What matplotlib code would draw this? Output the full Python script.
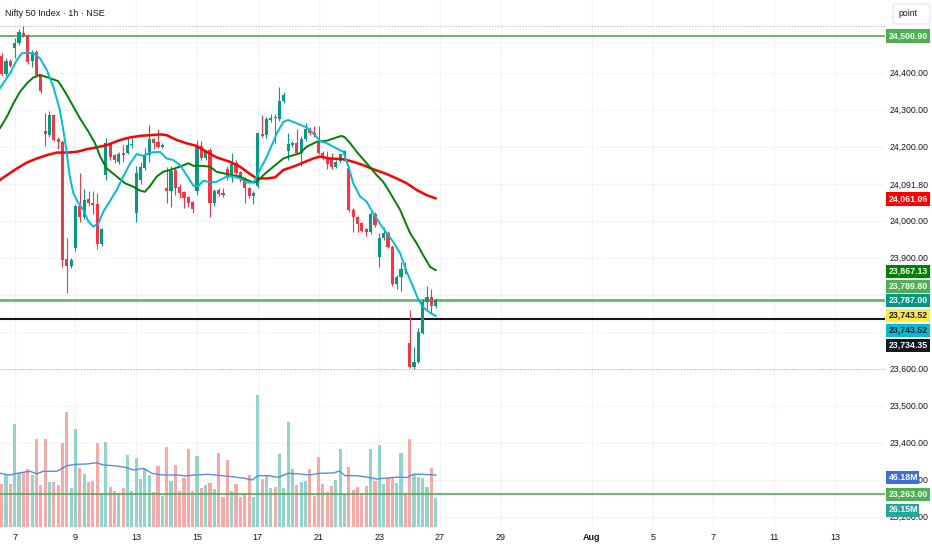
import matplotlib
matplotlib.use("Agg")
import matplotlib.pyplot as plt
from matplotlib.patches import Rectangle, FancyBboxPatch
import numpy as np

# ---------------- data ----------------
opens = [24446, 24397, 24433, 24467, 24480, 24509, 24503, 24433, 24458, 24395,
         24242, 24232, 24286, 24221, 24213, 23897, 23878, 23927, 24040, 24011,
         24059, 24049, 24046, 23938, 24124, 24208, 24178, 24159, 24184, 24184,
         24205, 24022, 24111, 24143, 24178, 24221, 24213, 24200, 24090, 24082,
         24138, 24092, 24079, 24065, 24050, 24082, 24203, 24170, 24192, 24050,
         24084, 24076, 24141, 24124, 24157, 24133, 24115, 24088, 24068, 24095,
         24235, 24232, 24273, 24281, 24275, 24325, 24190, 24206, 24212, 24185,
         24221, 24248, 24237, 24211, 24184, 24172, 24168, 24147, 24162, 24180,
         24142, 24030, 24010, 23994, 23978, 23971, 24019, 23904, 23953, 23968,
         23931, 23830, 23848, 23870, 23671, 23605, 23620, 23698, 23782, 23794,
         23769]
highs = [24454, 24440, 24438, 24494, 24518, 24527, 24506, 24462, 24462, 24398,
         24292, 24298, 24290, 24226, 24220, 23954, 23900, 24045, 24130, 24086,
         24080, 24080, 24075, 23982, 24224, 24212, 24182, 24186, 24205, 24224,
         24224, 24150, 24160, 24197, 24259, 24225, 24249, 24210, 24146, 24148,
         24142, 24100, 24082, 24068, 24053, 24219, 24216, 24192, 24196, 24086,
         24088, 24089, 24150, 24184, 24165, 24136, 24118, 24092, 24082, 24240,
         24286, 24280, 24290, 24290, 24363, 24350, 24238, 24215, 24250, 24230,
         24265, 24255, 24258, 24258, 24188, 24190, 24185, 24165, 24185, 24192,
         24146, 24034, 24014, 23998, 23982, 24023, 24023, 23968, 23985, 23972,
         23935, 23855, 23890, 23890, 23759, 23660, 23712, 23790, 23823, 23815,
         23792]
lows = [24392, 24392, 24415, 24440, 24476, 24498, 24425, 24417, 24390, 24347,
        24203, 24228, 24215, 24195, 23877, 23805, 23872, 23920, 23998, 24005,
        24040, 24020, 23924, 23932, 24110, 24165, 24158, 24155, 24160, 24180,
        24196, 23998, 24100, 24138, 24160, 24195, 24196, 24197, 24049, 24039,
        24070, 24062, 24036, 24038, 24022, 24070, 24165, 24166, 24011, 24040,
        24068, 24065, 24110, 24105, 24118, 24105, 24050, 24062, 24045, 24090,
        24226, 24225, 24268, 24212, 24270, 24318, 24165, 24200, 24180, 24150,
        24215, 24232, 24228, 24180, 24165, 24140, 24140, 24143, 24158, 24175,
        24025, 23971, 23970, 23970, 23960, 23966, 23984, 23876, 23948, 23926,
        23823, 23815, 23812, 23858, 23602, 23600, 23615, 23695, 23760, 23750,
        23765]
closes = [24397, 24433, 24420, 24480, 24512, 24501, 24431, 24458, 24395, 24351,
          24236, 24286, 24219, 24214, 23895, 23878, 23895, 24040, 24011, 24057,
          24049, 24043, 23938, 23978, 24211, 24173, 24165, 24181, 24178, 24205,
          24208, 24130, 24146, 24178, 24221, 24211, 24200, 24205, 24082, 24135,
          24089, 24076, 24061, 24049, 24032, 24200, 24170, 24187, 24050, 24082,
          24073, 24070, 24122, 24154, 24131, 24115, 24088, 24068, 24077, 24237,
          24230, 24276, 24279, 24278, 24325, 24340, 24208, 24210, 24185, 24221,
          24248, 24237, 24232, 24184, 24170, 24155, 24147, 24160, 24180, 24189,
          24030, 24010, 23992, 23974, 23969, 24019, 23989, 23953, 23968, 23931,
          23830, 23848, 23870, 23868, 23605, 23620, 23701, 23782, 23794, 23769,
          23787]
volumes_m = [38.0, 46.9, 38.5, 91.4, 47.8, 48.7, 51.4, 46.3, 78.3, 37.4,
             78.1, 40.3, 40.3, 37.4, 74.5, 102.6, 34.4, 87.2, 52.8, 46.9,
             40.3, 40.9, 74.5, 30.5, 75.9, 35.9, 32.0, 30.5, 35.0, 64.1,
             32.0, 61.7, 42.7, 52.2, 46.3, 30.9, 54.3, 27.6, 71.5, 40.9,
             55.2, 32.0, 43.9, 69.4, 32.0, 63.2, 34.4, 37.4, 38.9, 33.8,
             66.1, 26.4, 59.6, 32.0, 38.3, 27.0, 29.1, 46.3, 27.0, 117.5,
             42.7, 46.3, 35.0, 35.9, 65.0, 35.0, 93.7, 51.4, 37.4, 40.3,
             40.9, 51.4, 27.6, 62.0, 38.5, 31.4, 36.5, 41.8, 69.4, 29.4,
             53.1, 32.9, 35.9, 30.5, 36.5, 69.2, 41.2, 73.0, 38.5, 43.9,
             43.9, 39.4, 65.6, 30.5, 78.3, 46.3, 44.2, 43.6, 35.3, 52.2,
             26.15]

# moving-average lines (bar position, value)
fast_ma_x = [-0.4, 1.9, 3.5, 4.6, 5.8, 7.3, 8.8, 10.4, 11.9, 13.4, 14.2, 15.0, 15.7, 16.5,
             17.7, 18.8, 20.0, 21.1, 22.3, 23.4, 25.0, 26.5, 28.0, 29.6, 31.1, 32.6, 34.2,
             36.5, 38.0, 39.5, 41.1, 42.6, 44.2, 45.3, 46.5, 48.0, 49.5, 51.8, 53.4, 54.9,
             56.5, 58.0, 59.1, 61.1, 63.4, 64.9, 66.0, 68.0, 70.3, 71.8, 73.3, 74.9, 77.2,
             78.7, 79.9, 81.0, 82.6, 84.1, 85.6, 87.2, 88.7, 90.2, 91.8, 93.3, 94.8, 96.0,
             97.1, 98.7, 100.0]
fast_ma = [24359, 24399, 24435, 24453, 24455, 24453, 24440, 24408, 24363, 24300, 24246, 24183,
           24120, 24075, 24048, 24030, 23998, 23985, 23994, 24025, 24055, 24084, 24120, 24156,
           24181, 24176, 24185, 24187, 24169, 24165, 24151, 24124, 24095, 24095, 24109, 24105,
           24106, 24120, 24120, 24115, 24104, 24104, 24129, 24174, 24237, 24268, 24273, 24264,
           24253, 24237, 24217, 24210, 24196, 24187, 24147, 24102, 24066, 24052, 24021, 23992,
           23967, 23944, 23913, 23863, 23822, 23787, 23767, 23752, 23743.52]

mid_ma_x = [-0.4, 1.2, 2.7, 4.2, 5.8, 7.3, 8.8, 11.1, 13.0, 14.6, 16.1, 18.0, 20.0, 21.5,
            22.7, 24.2, 25.7, 28.4, 30.3, 31.9, 33.0, 34.2, 35.7, 37.2, 38.8, 41.1, 43.0,
            44.2, 46.1, 48.0, 49.5, 51.5, 54.9, 56.5, 58.0, 58.8, 60.3, 62.6, 64.9, 67.2,
            68.7, 70.3, 72.6, 74.9, 77.2, 78.3, 79.1, 80.3, 81.8, 84.1, 86.4, 87.9, 89.5,
            91.8, 94.1, 95.6, 97.1, 98.7, 100.0]
mid_ma = [24251, 24282, 24318, 24349, 24372, 24388, 24395, 24386, 24378, 24349, 24318, 24278,
          24241, 24210, 24174, 24142, 24128, 24102, 24093, 24082, 24079, 24095, 24120, 24133,
          24138, 24147, 24156, 24149, 24149, 24147, 24133, 24128, 24120, 24111, 24104, 24106,
          24124, 24147, 24169, 24178, 24183, 24201, 24214, 24217, 24226, 24230, 24226, 24210,
          24187, 24156, 24124, 24106, 24076, 24030, 23967, 23940, 23908, 23876, 23867.13]

slow_ma_x = [-0.4, 1.2, 3.5, 5.8, 8.1, 10.4, 12.7, 15.0, 17.3, 19.6, 21.9, 24.2, 27.3, 29.6,
             31.9, 34.2, 36.5, 38.0, 40.3, 42.6, 44.9, 47.2, 49.5, 52.6, 54.9, 57.2, 58.8,
             61.1, 63.0, 64.9, 67.2, 69.5, 71.8, 73.3, 75.6, 78.7, 81.0, 83.3, 85.6, 88.7,
             91.0, 93.3, 95.6, 97.9, 100.0]
slow_ma = [24111, 24124, 24142, 24158, 24169, 24178, 24185, 24185, 24187, 24194, 24199, 24205,
           24219, 24226, 24230, 24232, 24234, 24232, 24219, 24210, 24203, 24187, 24172, 24160,
           24147, 24127, 24115, 24115, 24118, 24138, 24147, 24158, 24169, 24174, 24169, 24167,
           24160, 24151, 24140, 24127, 24115, 24102, 24084, 24070, 24061.06]

vol_ma_x = [-0.4, 1.9, 4.2, 6.5, 8.1, 9.6, 12.7, 15.0, 17.3, 19.6, 21.9, 23.4, 26.5, 28.8,
            30.3, 32.6, 34.6, 36.9, 40.7, 42.2, 44.5, 47.6, 50.7, 53.0, 56.1, 57.6, 59.1,
            61.4, 63.7, 66.0, 68.7, 71.0, 73.3, 76.4, 77.8, 79.1, 81.8, 84.9, 86.4, 89.5,
            91.8, 93.3, 94.8, 97.1, 100.0]
vol_ma = [47.8, 46.3, 48.3, 49.6, 47.4, 49.6, 49.6, 54.6, 55.8, 56.1, 57.2, 55.2, 54.3, 52.8,
          50.7, 52.2, 47.8, 46.3, 46.3, 45.4, 46.3, 46.9, 45.7, 44.8, 43.3, 41.8, 45.7, 45.7,
          44.2, 47.8, 47.2, 46.3, 47.8, 48.1, 49.8, 45.7, 45.7, 43.9, 42.7, 43.9, 44.5, 43.9,
          46.9, 46.9, 46.18]

level_top = 24500.90
level_last = 23787.00
level_black = 23734.35
level_low = 23263.00

x_tick_pos = [3, 17, 31, 45, 59, 73, 87, 101, 115, 136, 150, 164, 178, 192]
x_tick_labels = ["7", "9", "13", "15", "17", "21", "23", "27", "29", "Aug", "5", "7", "11", "13"]
price_ticks = [24400, 24300, 24200, 24000, 23900, 23600, 23500, 23400, 23300, 23200]
price_extra_label = 24091.80

# (value text, facecolor, textcolor, pixel-y of label centre, width)
box_labels = [
    ("24,500.90", "#4caf50", "white", 36, 44),
    ("24,061.06", "#ff0000", "white", 199, 44),
    ("23,867.13", "#008000", "white", 271, 44),
    ("23,789.80", "#4caf50", "white", 286, 44),
    ("23,787.00", "#089981", "white", 300, 44),
    ("23,743.52", "#ffeb3b", "#131722", 315, 44),
    ("23,743.52", "#00bcd4", "#131722", 330, 44),
    ("23,734.35", "#131722", "white", 345, 44),
    ("46.18M", "#3d6fdb", "white", 477, 33),
    ("23,263.00", "#4caf50", "white", 494, 44),
    ("26.15M", "#26a69a", "white", 510, 33),
]

# ---------------- layout ----------------
W, H = 932, 550
PLOT_R, PLOT_B = 885, 528
X0_PX, BAR_PX = 1.7, 4.34
PX_PER_PT = 0.37
Y_REF_PX, Y_REF_PRICE = 73, 24400
VOL_PER_PX, VOL_ZERO_PX = 0.89, 527

FONT = ['Liberation Sans Narrow', 'Liberation Sans', 'DejaVu Sans']
TXT = '#131722'
UP, DOWN = '#089981', '#f23645'
UP_V, DOWN_V = '#92d3ca', '#f8a9a7'
LBL = 6.3

fig = plt.figure(figsize=(W / 100, H / 100), dpi=100)
fig.patch.set_facecolor('white')
rect = [0, 1 - PLOT_B / H, PLOT_R / W, PLOT_B / H]
ax = fig.add_axes(rect)
axv = fig.add_axes(rect, sharex=ax)
ax.set_zorder(0)
axv.set_zorder(1)
axv.patch.set_visible(False)

xmin = (0 - X0_PX) / BAR_PX
xmax = (PLOT_R - X0_PX) / BAR_PX
ax.set_xlim(xmin, xmax)
ax.set_ylim(Y_REF_PRICE - (PLOT_B - Y_REF_PX) / PX_PER_PT, Y_REF_PRICE + Y_REF_PX / PX_PER_PT)
axv.set_ylim(-(PLOT_B - VOL_ZERO_PX) * VOL_PER_PX, VOL_ZERO_PX * VOL_PER_PX)
for a in (ax, axv):
    a.axis('off')

# grid
for p in range(23200, 24600, 100):
    ax.axhline(p, color='#f0f3fa', lw=0.9, zorder=0)
for xt in x_tick_pos:
    ax.axvline(xt, color='#f0f3fa', lw=0.9, zorder=0)

idx = np.arange(len(opens))
o = np.array(opens, float); c = np.array(closes, float)
hi = np.array(highs, float); lo = np.array(lows, float)
up = c >= o
cols = np.where(up, UP, DOWN)

# high / low dotted markers
ax.axhline(hi.max(), color='#b2b5be', lw=0.8, ls=(0, (1, 1.5)), zorder=1)
ax.axhline(lo.min(), color='#b2b5be', lw=0.8, ls=(0, (1, 1.5)), zorder=1)

# candles
ax.vlines(idx, lo, hi, colors=cols, lw=0.8, zorder=3)
body_b = np.minimum(o, c)
body_h = np.maximum(np.abs(c - o), 2.7)
ax.bar(idx, body_h, bottom=body_b, width=0.72, color=cols, lw=0, zorder=4)

# moving averages
ax.plot(slow_ma_x, slow_ma, color='#ff0000', lw=1.8, zorder=5, solid_capstyle='round')
ax.plot(mid_ma_x, mid_ma, color='#008000', lw=1.4, zorder=5)
ax.plot(fast_ma_x, fast_ma, color='#00bcd4', lw=1.4, zorder=5)

# horizontal levels
ax.axhline(level_top, color='#4caf50', lw=1.2, zorder=2)
ax.axhline(level_last, color='#66bb6a', lw=2.0, zorder=2)
ax.axhline(level_black, color='#131722', lw=1.5, zorder=2)

# volume
vcols = np.where(up, UP_V, DOWN_V)
axv.bar(idx, volumes_m, width=0.72, color=vcols, lw=0, zorder=2)
axv.plot(vol_ma_x, vol_ma, color='#5a8ae0', lw=1.0, zorder=3)
axv.plot([xmin, xmax], [level_low, level_low], color='#4caf50', lw=1.2,
         transform=ax.transData, zorder=4)

# ---------------- texts ----------------
def fx(px):
    return px / W

def fy(py):
    return 1 - py / H

fig.text(fx(5), fy(14), "Nifty 50 Index · 1h · NSE", fontsize=6.5, color=TXT,
         family=FONT, va='center', ha='left')

# "point" button
fig.patches.append(FancyBboxPatch((fx(893), fy(24)), fx(37), 20 / H,
                                  boxstyle='round,pad=0,rounding_size=0.004',
                                  transform=fig.transFigure, facecolor='white',
                                  edgecolor='#e0e3eb', lw=0.8))
fig.text(fx(898), fy(14), "point", fontsize=LBL, color=TXT, family=FONT, va='center')

# x tick labels
for xt, lab in zip(x_tick_pos, x_tick_labels):
    xpx = X0_PX + BAR_PX * xt
    fig.text(fx(xpx), fy(538), lab, fontsize=6.5, color=TXT, family=FONT,
             ha='center', va='center', weight='bold' if lab == 'Aug' else 'normal')

# price tick labels
def price_px(p):
    return Y_REF_PX + (Y_REF_PRICE - p) * PX_PER_PT

for p in price_ticks:
    fig.text(fx(890), fy(price_px(p)), f"{p:,.2f}", fontsize=LBL, color=TXT,
             family=FONT, va='center', ha='left', zorder=1)
fig.text(fx(890), fy(price_px(price_extra_label) - 2), f"{price_extra_label:,.2f}",
         fontsize=LBL, color=TXT, family=FONT, va='center', ha='left', zorder=1)

# coloured value boxes
for text, fc, tc, ypx, wpx in box_labels:
    fig.patches.append(Rectangle((fx(886), fy(ypx + 6.5)), wpx / W, 13 / H,
                                 transform=fig.transFigure, facecolor=fc,
                                 edgecolor='none', zorder=5))
    fig.text(fx(889), fy(ypx), text, fontsize=LBL, color=tc, family=FONT,
             va='center', ha='left', zorder=6, weight='bold')

fig.savefig("out.png", dpi=100, facecolor='white')
